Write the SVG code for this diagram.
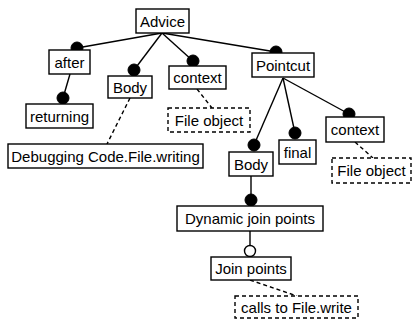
<svg xmlns="http://www.w3.org/2000/svg" width="414" height="322" viewBox="0 0 414 322">
<style>
rect.n{fill:#fff;stroke:#000;stroke-width:1.4}
rect.d{fill:#fff;stroke:#000;stroke-width:1.4;stroke-dasharray:4 3}
text{font-family:"Liberation Sans",Arial,sans-serif;font-size:15px;fill:#000;text-anchor:middle}
line.c{stroke:#000;stroke-width:1.4}
line.k{stroke:#000;stroke-width:1.4;stroke-dasharray:4 3}
circle.f{fill:#000;stroke:#000;stroke-width:1}
circle.o{fill:#fff;stroke:#000;stroke-width:1.4}
</style>
<g id="connectors">
<line class="c" x1="162" y1="33" x2="77" y2="48"/>
<line class="c" x1="162" y1="33" x2="134" y2="70"/>
<line class="c" x1="162" y1="33" x2="193" y2="61"/>
<line class="c" x1="162" y1="33" x2="276" y2="52"/>
<line class="c" x1="70" y1="74" x2="63" y2="98"/>
<line class="c" x1="283" y1="78" x2="254" y2="145"/>
<line class="c" x1="283" y1="78" x2="295" y2="133"/>
<line class="c" x1="283" y1="78" x2="349" y2="114"/>
<line class="c" x1="251" y1="176" x2="251" y2="200"/>
<line class="c" x1="250" y1="231" x2="250" y2="246"/>
<line class="k" x1="130" y1="98" x2="107" y2="144"/>
<line class="k" x1="197" y1="89" x2="212" y2="108"/>
<line class="k" x1="355" y1="142" x2="373" y2="158"/>
<line class="k" x1="250" y1="280" x2="297" y2="296"/>
<circle class="f" cx="77" cy="48" r="6"/>
<circle class="f" cx="134" cy="70" r="6"/>
<circle class="f" cx="193" cy="61" r="6"/>
<circle class="f" cx="276" cy="52" r="6"/>
<circle class="f" cx="63" cy="98" r="6"/>
<circle class="f" cx="254" cy="145" r="6"/>
<circle class="f" cx="295" cy="133" r="6"/>
<circle class="f" cx="349" cy="114" r="6"/>
<circle class="f" cx="251" cy="200" r="6"/>
<circle class="o" cx="250" cy="251" r="5.5"/>
</g>
<g id="advice"><rect class="n" x="136" y="9" width="53" height="24"/><text x="162.5" y="26.5">Advice</text></g>
<g id="after"><rect class="n" x="49" y="50" width="41" height="24"/><text x="69.5" y="67.5">after</text></g>
<g id="returning"><rect class="n" x="26" y="104" width="67" height="24"/><text x="59.5" y="121.5">returning</text></g>
<g id="body1"><rect class="n" x="108" y="76" width="44" height="22"/><text x="130" y="92.5">Body</text></g>
<g id="context1"><rect class="n" x="169" y="66" width="57" height="23"/><text x="197.5" y="83">context</text></g>
<g id="fileobject1"><rect class="d" x="168" y="108" width="82" height="24"/><text x="209" y="125.5">File object</text></g>
<g id="debugging"><rect class="n" x="8" y="144" width="195" height="24"/><text x="105.5" y="161.5">Debugging Code.File.writing</text></g>
<g id="pointcut"><rect class="n" x="252" y="53" width="62" height="24"/><text x="283" y="70.5">Pointcut</text></g>
<g id="body2"><rect class="n" x="229" y="152" width="44" height="24"/><text x="251" y="169.5">Body</text></g>
<g id="final"><rect class="n" x="279" y="140" width="37" height="24"/><text x="297.5" y="157.5">final</text></g>
<g id="context2"><rect class="n" x="326" y="117" width="58" height="25"/><text x="355" y="135">context</text></g>
<g id="fileobject2"><rect class="d" x="332" y="158" width="79" height="25"/><text x="371.5" y="176">File object</text></g>
<g id="dynamic"><rect class="n" x="177" y="206" width="146" height="25"/><text x="250" y="224">Dynamic join points</text></g>
<g id="joinpoints"><rect class="n" x="211" y="257" width="80" height="23"/><text x="251" y="274">Join points</text></g>
<g id="calls"><rect class="d" x="235" y="296" width="123" height="22"/><text x="296.5" y="312.5">calls to File.write</text></g>
</svg>
